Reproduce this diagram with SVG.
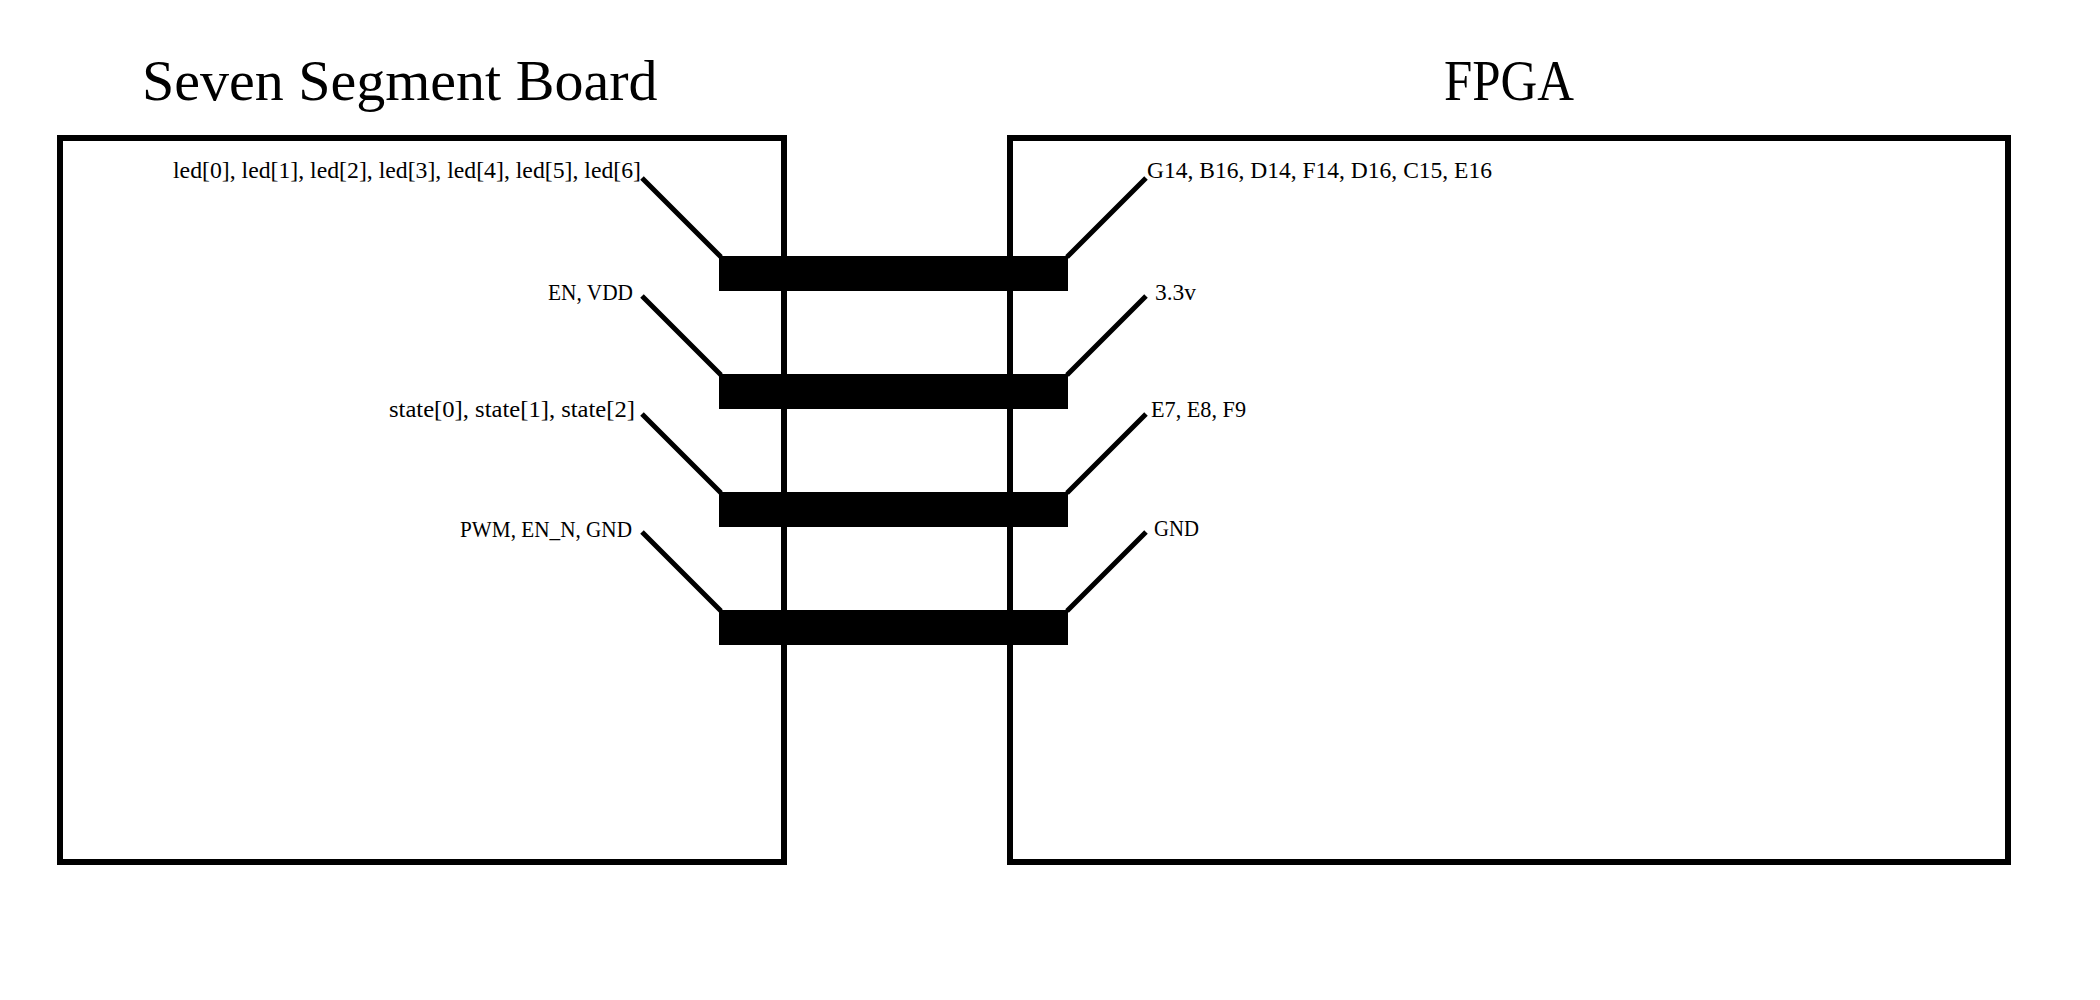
<svg xmlns="http://www.w3.org/2000/svg" width="2100" height="1000" viewBox="0 0 2100 1000">
<style>
.box{fill:none;stroke:#000;stroke-width:6}
.title{font-family:"Liberation Serif","Times New Roman",serif;font-size:58px;fill:#000}
.lbl{font-family:"Liberation Serif","Times New Roman",serif;font-size:23px;fill:#000}
.end{text-anchor:end}
.bar{fill:#000}
.wire{stroke:#000;stroke-width:5;fill:none}
</style>
<rect x="0" y="0" width="2100" height="1000" fill="#fff"/>
<g id="seven-segment-board">
<rect class="box" x="60" y="138" width="724" height="724"/>
<text class="title" x="142" y="100">Seven Segment Board</text>
<text class="lbl end" x="641" y="178" textLength="468" lengthAdjust="spacingAndGlyphs">led[0], led[1], led[2], led[3], led[4], led[5], led[6]</text>
<text class="lbl end" x="633" y="300" textLength="85" lengthAdjust="spacingAndGlyphs">EN, VDD</text>
<text class="lbl end" x="635" y="417" textLength="246" lengthAdjust="spacingAndGlyphs">state[0], state[1], state[2]</text>
<text class="lbl end" x="632" y="537" textLength="172" lengthAdjust="spacingAndGlyphs">PWM, EN_N, GND</text>
</g>
<g id="fpga">
<rect class="box" x="1010" y="138" width="998" height="724"/>
<text class="title" x="1509" y="100" text-anchor="middle" textLength="130" lengthAdjust="spacingAndGlyphs">FPGA</text>
<text class="lbl" x="1147" y="178" textLength="345" lengthAdjust="spacingAndGlyphs">G14, B16, D14, F14, D16, C15, E16</text>
<text class="lbl" x="1155" y="300" textLength="41" lengthAdjust="spacingAndGlyphs">3.3v</text>
<text class="lbl" x="1151" y="417" textLength="95" lengthAdjust="spacingAndGlyphs">E7, E8, F9</text>
<text class="lbl" x="1154" y="536" textLength="45" lengthAdjust="spacingAndGlyphs">GND</text>
</g>
<g id="connectors">
<rect class="bar" x="719" y="256" width="349" height="35"/>
<rect class="bar" x="719" y="374" width="349" height="35"/>
<rect class="bar" x="719" y="492" width="349" height="35"/>
<rect class="bar" x="719" y="610" width="349" height="35"/>
<path class="wire" d="M642 178 L721 257 M642 296 L721 375 M642 414 L721 493 M642 532 L721 611"/>
<path class="wire" d="M1146 178 L1067 257 M1146 296 L1067 375 M1146 414 L1067 493 M1146 532 L1067 611"/>
</g>
</svg>
